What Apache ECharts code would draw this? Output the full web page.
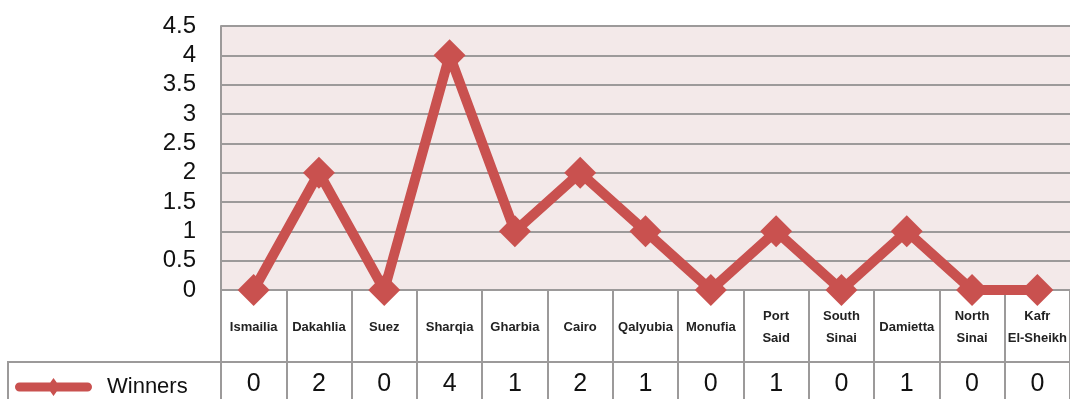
<!DOCTYPE html>
<html>
<head>
<meta charset="utf-8">
<script src="https://cdn.jsdelivr.net/npm/echarts@6/dist/echarts.min.js"></script>
<style>
html,body{margin:0;padding:0;background:#fff;}
#chart{width:1070px;height:399px;}
</style>
</head>
<body>
<div id="chart"></div>
<script>
const categories = ['Ismailia','Dakahlia','Suez','Sharqia','Gharbia','Cairo','Qalyubia','Monufia','Port\nSaid','South\nSinai','Damietta','North\nSinai','Kafr\nEl-Sheikh'];
const winners = [0,2,0,4,1,2,1,0,1,0,1,0,0];
const seriesName = 'Winners';

const red = '#C9514F';
const gridGray = '#9c9a9a';
const legendIcon = 'path://M4.5,4.5 L72.5,4.5 A4.5,4.5 0 0 1 72.5,13.5 L4.5,13.5 A4.5,4.5 0 0 1 4.5,4.5 Z M38.5,0 L45,9 L38.5,18 L32,9 Z';
const chart = echarts.init(document.getElementById('chart'), null, {renderer:'canvas'});
chart.setOption({
  animation:false,
  textStyle:{fontFamily:'Liberation Sans, Arial, sans-serif'},
  grid:{left:221, right:0, top:26, height:264, show:true, backgroundColor:'#f3e9e9', borderWidth:0},
  legend:{
    data:[{name:seriesName, icon:legendIcon}], left:10, top:371, itemWidth:77, itemHeight:18,
    textStyle:{fontSize:22, color:'#111', padding:[0,0,0,10]}
  },
  xAxis:[{
    type:'category', data:categories, position:'bottom',
    axisLine:{show:true, lineStyle:{color:gridGray, width:2}},
    axisTick:{show:true, length:72, lineStyle:{color:gridGray, width:2}},
    axisLabel:{margin:37, verticalAlign:'middle', fontSize:13, fontWeight:'bold', color:'#222', lineHeight:22, interval:0}
  },{
    type:'category', data:categories, position:'bottom', offset:72,
    axisLine:{show:true, lineStyle:{color:gridGray, width:2}},
    axisTick:{show:true, length:40, lineStyle:{color:gridGray, width:2}},
    axisLabel:{margin:22, verticalAlign:'middle', fontSize:25, color:'#111', interval:0,
      formatter:(v,i)=>String(winners[i])}
  }],
  yAxis:{
    type:'value', min:0, max:4.5, interval:0.5,
    axisLine:{show:true, lineStyle:{color:gridGray, width:2}},
    axisTick:{show:false},
    splitLine:{show:true, lineStyle:{color:gridGray, width:2}},
    axisLabel:{margin:25, fontSize:24, color:'#111'}
  },
  graphic:[{
    type:'polyline', shape:{points:[[8,400],[8,362],[221,362]]},
    style:{stroke:gridGray, lineWidth:2, fill:null}, z:0
  }],
  series:[{
    name:seriesName, type:'line', data:winners, xAxisIndex:0,
    symbol:'diamond', symbolSize:32, clip:false, z:5,
    lineStyle:{color:red, width:10},
    itemStyle:{color:red}
  }]
});
</script>
</body>
</html>
